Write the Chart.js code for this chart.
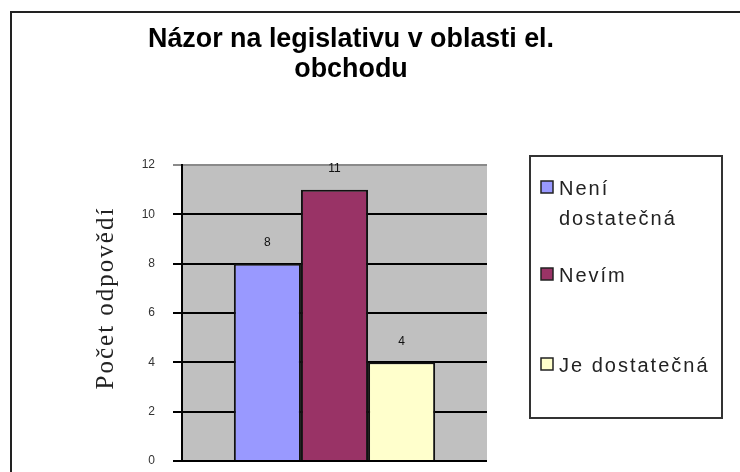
<!DOCTYPE html>
<html>
<head>
<meta charset="utf-8">
<script src="https://cdn.jsdelivr.net/npm/chart.js@4.4.1/dist/chart.umd.min.js"></script>
<style>
html, body { margin: 0; padding: 0; background: #fff; }
#wrap { width: 740px; height: 472px; }
</style>
</head>
<body>
<div id="wrap"><canvas id="grafNazor" width="740" height="472"></canvas></div>
<script>
// data
const KATEGORIE = [''];
const ODPOVEDI = ['Není dostatečná', 'Nevím', 'Je dostatečná'];
const POCTY = [8, 11, 4];
const OSA_Y = [0, 2, 4, 6, 8, 10, 12];
const TITULEK = ['Názor na legislativu v oblasti el.', 'obchodu'];
const NAZEV_OSY_Y = 'Počet odpovědí';

const BARVY = ['#9999FF', '#993366', '#FFFFCC'];

// sede pozadi plochy grafu
const pozadi = {
    id: 'pozadi',
    beforeDraw(chart) {
        const { ctx, chartArea: a } = chart;
        ctx.save();
        ctx.fillStyle = '#C0C0C0';
        ctx.fillRect(a.left, a.top, a.right - a.left, a.bottom - a.top);
        ctx.restore();
    }
};

// hodnoty nad sloupci
const popisky = {
    id: 'popisky',
    afterDatasetsDraw(chart) {
        const ctx = chart.ctx;
        ctx.save();
        ctx.font = '12px "Liberation Sans", Arial, sans-serif';
        ctx.fillStyle = '#111';
        ctx.textAlign = 'center';
        ctx.textBaseline = 'middle';
        chart.data.datasets.forEach((ds, i) => {
            chart.getDatasetMeta(i).data.forEach((bar, j) => {
                ctx.fillText(String(ds.data[j]), bar.x, bar.y - 21);
            });
        });
        ctx.restore();
    }
};

// titulek, popis osy, legenda a ramecek
const doplnky = {
    id: 'doplnky',
    afterDraw(chart) {
        const ctx = chart.ctx;
        ctx.save();

        // ramecek celeho grafu
        ctx.strokeStyle = '#222';
        ctx.lineWidth = 2;
        ctx.beginPath();
        ctx.moveTo(11, 472);
        ctx.lineTo(11, 12);
        ctx.lineTo(740, 12);
        ctx.stroke();

        // titulek
        ctx.fillStyle = '#000';
        ctx.font = 'bold 28px "Liberation Sans Narrow", "Liberation Sans", Arial, sans-serif';
        ctx.textAlign = 'center';
        ctx.textBaseline = 'alphabetic';
        const sx = 406 / ctx.measureText(TITULEK[0]).width;
        TITULEK.forEach((radek, i) => {
            ctx.save();
            ctx.translate(351, 47 + i * 30);
            ctx.scale(sx, 1);
            ctx.fillText(radek, 0, 0);
            ctx.restore();
        });

        // popis osy y
        ctx.save();
        ctx.translate(106, 298);
        ctx.rotate(-Math.PI / 2);
        ctx.font = '25px "Liberation Serif", "Times New Roman", serif';
        ctx.letterSpacing = '2px';
        ctx.fillStyle = '#222';
        ctx.textAlign = 'center';
        ctx.textBaseline = 'middle';
        ctx.fillText(NAZEV_OSY_Y, 0, 0);
        ctx.restore();

        // legenda
        ctx.strokeStyle = '#333';
        ctx.lineWidth = 2;
        ctx.strokeRect(530, 156, 192, 262);
        ctx.font = '20px "Liberation Sans", Arial, sans-serif';
        ctx.letterSpacing = '2px';
        ctx.textAlign = 'left';
        ctx.textBaseline = 'alphabetic';
        const topy = [181, 268, 358];
        chart.data.datasets.forEach((ds, i) => {
            const y = topy[i];
            ctx.fillStyle = ds.backgroundColor;
            ctx.fillRect(541, y, 12, 12);
            ctx.strokeStyle = '#222';
            ctx.lineWidth = 1.5;
            ctx.strokeRect(541, y, 12, 12);
            // zalamovani textu
            const slova = ds.label.split(' ');
            const radky = [];
            let r = '';
            slova.forEach(s => {
                const zk = r ? r + ' ' + s : s;
                if (r && ctx.measureText(zk).width > 160) {
                    radky.push(r);
                    r = s;
                } else {
                    r = zk;
                }
            });
            radky.push(r);
            ctx.fillStyle = '#222';
            radky.forEach((t, k) => ctx.fillText(t, 559, y + 14 + k * 30));
        });
        ctx.restore();
    }
};

const ctx = document.getElementById('grafNazor').getContext('2d');

new Chart(ctx, {
    type: 'bar',
    data: {
        labels: KATEGORIE,
        datasets: ODPOVEDI.map((nazev, i) => ({
            label: nazev,
            data: [POCTY[i]],
            backgroundColor: BARVY[i],
            borderColor: '#111',
            borderWidth: 2,
            categoryPercentage: 0.66,
            barPercentage: 1
        }))
    },
    options: {
        responsive: false,
        animation: false,
        layout: {
            padding: { left: 0, top: 165, right: 253, bottom: 11 }
        },
        plugins: {
            legend: { display: false },
            title: { display: false },
            tooltip: { enabled: false }
        },
        scales: {
            x: { display: false },
            y: {
                min: 0,
                max: 12,
                afterBuildTicks: s => { s.ticks = OSA_Y.map(v => ({ value: v })); },
                afterFit: s => {
                    s.width = 182;
                    s.paddingTop = 0;
                    s.paddingBottom = 0;
                },
                ticks: {
                    padding: 18,
                    color: '#333',
                    font: { family: '"Liberation Sans", Arial, sans-serif', size: 12 }
                },
                grid: {
                    color: c => (c.tick && c.tick.value === 12) ? '#8a8a8a' : '#000',
                    lineWidth: 2,
                    tickLength: 9
                },
                border: { color: '#000', width: 2 }
            }
        }
    },
    plugins: [pozadi, popisky, doplnky]
});
</script>
</body>
</html>
